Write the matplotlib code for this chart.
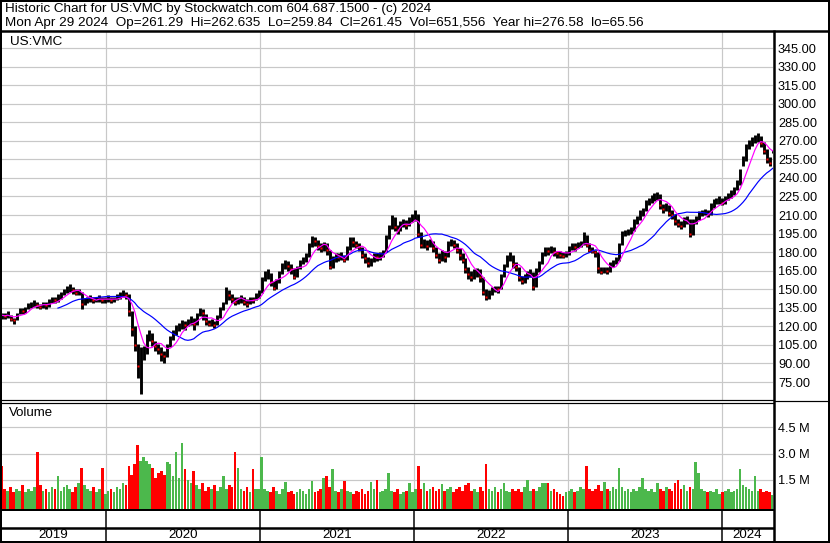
import matplotlib
matplotlib.use('Agg')
import matplotlib.pyplot as plt
import matplotlib.dates as mdates
from matplotlib.lines import Line2D
import numpy as np
import pandas as pd

plt.rcParams['font.family'] = ['Liberation Sans', 'DejaVu Sans']

# ---------------- data (weekly) ----------------
week_start = '2019-04-29'
close = [
    129, 128, 130, 126, 125, 130, 133, 132, 134, 137,
    138, 139, 137, 136, 138, 137, 140, 142, 141, 143,
    146, 148, 151, 152, 149, 147, 148, 138, 141, 142,
    143, 141, 142, 143, 141, 142, 143, 141, 142, 143,
    145, 147, 145, 132, 118, 105, 88, 98, 100, 110,
    114, 108, 104, 102, 98, 96, 104, 110, 114, 118,
    120, 122, 121, 124, 126, 122, 128, 133, 131, 124,
    122, 123, 121, 127, 133, 136, 147, 145, 142, 140,
    141, 143, 140, 138, 142, 141, 145, 146, 158, 162,
    163, 156, 151, 155, 163, 168, 172, 169, 166, 160,
    167, 172, 174, 176, 185, 190, 189, 185, 183, 186,
    182, 168, 175, 177, 176, 178, 174, 183, 190, 188,
    186, 184, 178, 175, 171, 173, 177, 176, 178, 180,
    192, 200, 208, 200, 198, 203, 205, 202, 206, 208,
    212, 195, 186, 188, 185, 189, 183, 178, 174, 180,
    176, 187, 189, 186, 182, 178, 174, 166, 162, 160,
    163, 165, 160, 148, 144, 146, 150, 151, 150, 160,
    168, 176, 178, 170, 168, 160, 157, 159, 163, 164,
    152, 165, 171, 178, 182, 181, 183, 180, 179, 178,
    177, 179, 183, 185, 184, 186, 187, 194, 186, 182,
    181, 180, 167, 164, 166, 165, 170, 172, 173, 184,
    195, 196, 197, 198, 205, 207, 212, 214, 220, 222,
    223, 225, 227, 218, 215, 217, 212, 210, 205, 203,
    201, 206, 207, 195, 205, 207, 211, 212, 213, 211,
    218, 221, 222, 222, 220, 223, 226, 228, 231, 235,
    244, 256, 265, 268, 270, 272, 273, 268, 262, 255,
    252, 261.45,
]
high = [
    131, 131, 132, 129, 127, 131, 135, 135, 136, 139,
    140, 141, 140, 138, 140, 140, 142, 144, 144, 146,
    148, 150, 153, 154, 152, 150, 150, 148, 143, 144,
    145, 144, 144, 145, 144, 144, 145, 144, 144, 146,
    148, 149, 148, 146, 132, 120, 106, 103, 104, 114,
    117, 115, 108, 106, 103, 100, 106, 112, 117, 121,
    123, 125, 124, 126, 128, 127, 131, 135, 134, 130,
    125, 126, 124, 129, 136, 140, 152, 149, 146, 144,
    144, 145, 144, 142, 144, 144, 147, 149, 160, 165,
    166, 163, 157, 158, 165, 171, 174, 173, 170, 167,
    169, 174, 176, 179, 187, 193, 192, 190, 187, 188,
    187, 182, 177, 179, 179, 180, 178, 185, 192, 192,
    189, 187, 184, 179, 176, 175, 179, 179, 180, 182,
    194, 202, 210, 208, 202, 205, 207, 206, 208, 211,
    214, 211, 196, 191, 190, 191, 189, 184, 179, 182,
    181, 189, 191, 190, 187, 183, 179, 175, 168, 165,
    166, 167, 166, 160, 150, 149, 152, 153, 153, 162,
    170, 178, 180, 178, 172, 168, 161, 162, 165, 166,
    164, 167, 173, 180, 184, 184, 185, 184, 181, 181,
    180, 181, 185, 187, 187, 188, 189, 196, 194, 187,
    184, 182, 180, 168, 168, 168, 172, 174, 176, 187,
    197, 198, 199, 200, 207, 209, 214, 216, 222, 224,
    226, 228, 229, 227, 219, 220, 218, 214, 211, 207,
    205, 208, 209, 207, 207, 209, 213, 214, 215, 214,
    220, 223, 224, 225, 224, 225, 228, 230, 233, 238,
    247, 258, 267, 271, 273, 275, 276.58, 274, 269, 263,
    257, 262.635,
]
low = [
    126, 126, 127, 124, 122, 125, 130, 130, 131, 134,
    135, 136, 135, 134, 135, 134, 136, 139, 139, 140,
    142, 145, 147, 148, 146, 145, 145, 134, 137, 139,
    140, 139, 140, 140, 139, 139, 140, 139, 140, 141,
    142, 144, 142, 128, 112, 100, 78, 65.56, 93, 98,
    108, 104, 100, 98, 92, 90, 95, 103, 109, 113,
    116, 118, 117, 120, 121, 117, 121, 128, 125, 121,
    120, 120, 119, 121, 127, 133, 138, 141, 139, 137,
    138, 139, 137, 136, 138, 139, 141, 143, 147, 157,
    158, 153, 149, 150, 155, 162, 166, 165, 162, 158,
    160, 166, 170, 172, 176, 184, 185, 182, 180, 181,
    178, 166, 167, 172, 173, 174, 172, 174, 182, 184,
    183, 181, 175, 171, 168, 169, 172, 173, 174, 176,
    180, 191, 199, 197, 195, 197, 200, 199, 201, 204,
    205, 192, 183, 183, 182, 184, 180, 175, 171, 173,
    172, 176, 185, 183, 179, 174, 171, 163, 158, 157,
    158, 160, 156, 145, 141, 142, 145, 148, 147, 150,
    160, 168, 173, 167, 165, 157, 154, 155, 158, 160,
    149, 152, 164, 170, 177, 178, 179, 177, 175, 175,
    175, 176, 178, 182, 181, 183, 184, 186, 184, 180,
    179, 176, 163, 162, 163, 162, 164, 168, 170, 173,
    186, 193, 194, 195, 197, 203, 206, 209, 213, 218,
    220, 221, 222, 215, 212, 213, 209, 207, 202, 200,
    199, 200, 203, 192, 194, 203, 206, 209, 210, 208,
    210, 216, 219, 219, 218, 219, 222, 224, 226, 230,
    234, 250, 254, 263, 266, 268, 269, 265, 259, 252,
    250, 259.84,
]
volume_m = [
    2.3, 1.0, 0.9, 1.1, 0.8, 1.0, 0.9, 1.2, 0.8, 1.0,
    0.9, 1.1, 3.1, 1.2, 0.9, 1.0, 0.8, 1.1, 1.0, 1.7,
    0.9, 1.1, 1.2, 1.0, 0.8, 1.1, 1.3, 2.2, 1.2, 1.0,
    0.9, 1.1, 0.8, 1.0, 2.2, 0.7, 0.9, 1.0, 0.8, 1.1,
    1.0, 1.3, 1.2, 2.3, 1.8, 2.4, 3.5, 2.6, 2.8, 2.6,
    2.4, 2.2, 1.6, 1.9, 2.0, 1.8, 2.5, 2.4, 1.7, 3.1,
    1.6, 3.6, 2.1, 1.5, 1.3, 2.0, 1.2, 1.0, 1.3, 0.9,
    1.1, 1.0, 1.2, 0.9, 1.1, 1.7, 1.0, 1.2, 1.1, 3.1,
    2.2, 1.0, 0.9, 1.1, 0.8, 2.1, 1.0, 1.0, 2.8, 1.0,
    0.9, 0.8, 1.1, 0.9, 0.7, 1.0, 1.4, 0.8, 0.9, 0.7,
    0.8, 1.0, 0.9, 0.7, 1.0, 1.45, 0.8, 0.9, 1.0, 1.6,
    1.75, 1.1, 2.1, 0.9, 0.8, 1.0, 1.45, 0.9, 0.8, 0.7,
    0.9, 0.8, 1.0, 0.7, 0.9, 1.4, 1.0, 1.5, 0.8, 0.9,
    1.0, 1.9, 0.9, 0.8, 1.0, 0.7, 0.8, 0.9, 1.3, 0.8,
    1.0, 2.3, 1.0, 1.3, 0.9, 1.0, 1.1, 0.9, 1.0, 1.25,
    0.9, 1.0, 1.1, 0.8, 1.0, 1.1, 0.9, 1.2, 1.3, 0.9,
    1.0, 0.8, 1.1, 0.9, 2.4, 1.0, 0.9, 1.1, 0.8, 1.0,
    1.3, 0.9, 0.8, 1.0, 0.9, 1.0, 0.8, 1.1, 1.5, 0.9,
    1.0, 0.9, 1.1, 1.3, 1.35, 1.35, 0.9, 1.0, 0.8, 0.7,
    0.6, 0.8, 0.9, 1.0, 0.8, 0.9, 1.1, 1.0, 2.3, 1.0,
    0.9, 1.0, 1.2, 0.9, 1.4, 1.0, 0.9, 1.1, 1.0, 2.2,
    1.1, 0.9, 1.0, 0.8, 1.0, 0.9, 1.1, 1.6, 1.0, 0.9,
    1.0, 0.8, 1.35, 1.0, 0.9, 1.1, 1.0, 0.9, 1.35, 1.5,
    1.0, 1.2, 0.9, 1.1, 1.0, 2.5, 1.9, 1.0, 0.9, 0.8,
    0.9, 0.8, 1.0, 0.7, 0.8, 0.9, 1.0, 0.8, 0.9, 1.0,
    2.1, 1.2, 1.1, 1.0, 0.9, 1.7, 0.9, 1.0, 0.8, 0.9,
    0.8, 0.65,
]
price_ticks = list(range(75, 346, 15))
volume_ticks = [1.5, 3.0, 4.5]
years = [2019, 2020, 2021, 2022, 2023, 2024]
title_line1 = "Historic Chart for US:VMC by Stockwatch.com 604.687.1500 - (c) 2024"
title_line2 = ("Mon Apr 29 2024  Op=261.29  Hi=262.635  Lo=259.84  Cl=261.45  "
               "Vol=651,556  Year hi=276.58  lo=65.56")

# ---------------- layout helpers ----------------
W, H = 830, 543
fig = plt.figure(figsize=(W / 100, H / 100), dpi=100)
fig.patch.set_facecolor('white')


def fx(x):
    return x / W


def fy(y):
    return 1 - y / H


def pt(px):
    return px * 72 / 100


def hline(y, x0, x1, lw=1.0, color='black'):
    fig.add_artist(Line2D([fx(x0), fx(x1)], [fy(y), fy(y)], lw=pt(lw), color=color,
                          solid_capstyle='butt'))


def vline(x, y0, y1, lw=1.0, color='black'):
    fig.add_artist(Line2D([fx(x), fx(x)], [fy(y0), fy(y1)], lw=pt(lw), color=color,
                          solid_capstyle='butt'))


dates = pd.date_range(week_start, periods=len(close), freq='7D') + pd.Timedelta(days=1)
xd = mdates.date2num(dates)
xmin = mdates.date2num(pd.Timestamp('2019-04-28'))
xmax = mdates.date2num(pd.Timestamp('2024-05-01'))
year_bounds = [mdates.date2num(pd.Timestamp(f'{y}-01-01')) for y in years[1:]]

s = pd.Series(close, dtype=float)
ma_fast = s.rolling(6, min_periods=1).mean()
ma_slow = s.rolling(20).mean()

grid_col = '#C8C8C8'
FS = 9.2

# ---------------- price panel ----------------
axp = fig.add_axes([fx(1), fy(400), fx(773) - fx(1), fy(31) - fy(400)])
axp.set_xlim(xmin, xmax)
axp.set_ylim(60.45, 358.75)
for sp in axp.spines.values():
    sp.set_visible(False)
axp.set_yticks(price_ticks)
axp.set_yticklabels([f'{v:.2f}' for v in price_ticks], fontsize=FS)
axp.yaxis.tick_right()
axp.tick_params(axis='y', length=0, pad=pt(5))
axp.set_xticks(year_bounds)
axp.tick_params(axis='x', length=0, labelbottom=False)
axp.grid(True, color=grid_col, lw=pt(1.2))
axp.set_axisbelow(True)

axp.vlines(xd, low, high, color='black', lw=pt(2.9))
down = [i for i in range(1, len(close)) if close[i] < close[i - 1]]
axp.plot(xd[down], [close[i] for i in down], 's', ms=1.6, color='red', mec='none')
axp.plot(xd, ma_slow, color='#0000FF', lw=pt(1.2))
axp.plot(xd, ma_fast, color='#FF00FF', lw=pt(1.2))
fig.text(fx(10), fy(42), 'US:VMC', fontsize=FS + 0.5, va='center', ha='left')

# ---------------- volume panel ----------------
axv = fig.add_axes([fx(1), fy(509), fx(773) - fx(1), fy(403) - fy(509)])
axv.set_xlim(xmin, xmax)
axv.set_ylim(-0.15, 5.87)
for sp in axv.spines.values():
    sp.set_visible(False)
axv.set_yticks(volume_ticks)
axv.set_yticklabels([f'{v:.1f} M' for v in volume_ticks], fontsize=FS)
axv.yaxis.tick_right()
axv.tick_params(axis='y', length=0, pad=pt(5))
axv.set_xticks(year_bounds)
axv.tick_params(axis='x', length=0, labelbottom=False)
axv.grid(True, color=grid_col, lw=pt(1.2))
axv.set_axisbelow(True)
vcol = ['#FF0000' if (i > 0 and close[i] < close[i - 1]) or i == 0 else '#4CB84C'
        for i in range(len(close))]
axv.bar(xd, np.array(volume_m) + 0.15, bottom=-0.15, width=6.2, color=vcol,
        linewidth=0)
fig.text(fx(9), fy(413), 'Volume', fontsize=FS + 0.3, va='center', ha='left')

# ---------------- year row ----------------
axy = fig.add_axes([fx(1), fy(542), fx(773) - fx(1), fy(527) - fy(542)])
axy.set_xlim(xmin, xmax)
axy.set_ylim(0, 1)
axy.axis('off')
edges = [xmin] + year_bounds + [xmax]
for i, yr in enumerate(years):
    axy.text((edges[i] + edges[i + 1]) / 2, 0.5, str(yr), ha='center', va='center',
             fontsize=FS + 0.4)

# ---------------- header and frame lines ----------------
fig.text(fx(5), fy(9), title_line1, fontsize=9.7, va='center', ha='left')
fig.text(fx(5), fy(23), title_line2, fontsize=9.7, va='center', ha='left')

hline(30.5, 0, 830, lw=2.5)
vline(774, 30, 543, lw=2.5)
hline(400.0, 0, 774, lw=1.2)
hline(402.8, 0, 774, lw=1.2)
hline(400.5, 774, 830, lw=1.2)
hline(509.5, 0, 774, lw=2.0)
hline(527.5, 0, 774, lw=2.5)
for yb in year_bounds:
    xp = 1 + (yb - xmin) / (xmax - xmin) * 772
    vline(xp, 509, 543, lw=1.5)
# outer border
hline(1, 0, 830, lw=2)
hline(542, 0, 830, lw=2)
vline(1, 0, 543, lw=2)
vline(829, 0, 543, lw=2)

fig.savefig('out.png', dpi=100)
